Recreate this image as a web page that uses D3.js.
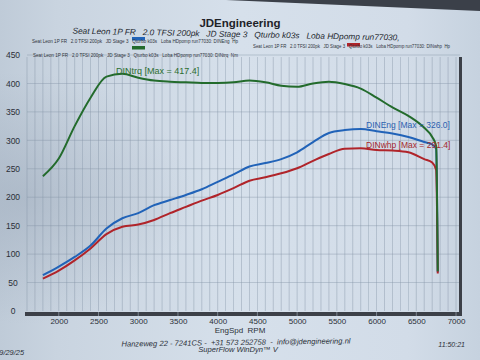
<!DOCTYPE html>
<html><head><meta charset="utf-8">
<script src="https://cdn.jsdelivr.net/npm/d3@7"></script>
<style>html,body{margin:0;padding:0;background:#cdd8e4;}svg{display:block;}</style>
</head><body><svg id="c" width="480" height="360"></svg>
<script>
const rpm    = [1800,2000,2200,2400,2600,2800,3000,3200,3400,3600,3800,4000,4200,4400,4600,4800,5000,5200,5400,5600,5800,6000,6200,6400,6600,6700,6750,6770];
const dinTrq = [237,268,325,375,412,417,410,405,403,402,401,401,402,405,402,396,394,400,403,399,391,375,358,343,322,306,290,70];
const dinEng = [63,78,95,115,145,163,172,186,195,204,214,227,240,254,260,267,279,297,313,318,320,316,312,306,297,293,285,68];
const dinWhp = [57,71,89,110,135,148,152,160,172,183,194,204,216,229,235,242,251,264,276,285,286,283,282,279,267,261,248,66];
const yTicks = [0,50,100,150,200,250,300,350,400,450];
const xTicks = [2000,2500,3000,3500,4000,4500,5000,5500,6000,6500,7000];
const legendText = "Seat Leon 1P FR   2.0 TFSI 200pk   JD Stage 3   Qturbo k03s   Loba HDpomp run77030: ";

const svg = d3.select("#c");
const defs = svg.append("defs");
const g1 = defs.append("linearGradient").attr("id","bg").attr("x1","0").attr("x2","1").attr("y1","0").attr("y2","0");
g1.append("stop").attr("offset","0").attr("stop-color","#bfcbd8");
g1.append("stop").attr("offset","0.12").attr("stop-color","#c9d4e0");
g1.append("stop").attr("offset","0.5").attr("stop-color","#d6e0eb");
g1.append("stop").attr("offset","0.85").attr("stop-color","#d2dce8");
g1.append("stop").attr("offset","1").attr("stop-color","#c6d2df");
svg.append("rect").attr("width",480).attr("height",360).attr("fill","url(#bg)");
const rg = defs.append("radialGradient").attr("id","sh").attr("cx","0.05").attr("cy","0.55").attr("r","0.35");
rg.append("stop").attr("offset","0").attr("stop-color","#8f9daf").attr("stop-opacity",0.4);
rg.append("stop").attr("offset","1").attr("stop-color","#8f9daf").attr("stop-opacity",0);
svg.append("rect").attr("width",480).attr("height",360).attr("fill","url(#sh)");
// dark photo background top-right
svg.append("path").attr("d","M226,0 L480,0 L480,11 Z").attr("fill","#3b4049");

const L=27, R=460, T=57, B=311;
const x = d3.scaleLinear().domain([1600,7050]).range([L,R]);
const y = d3.scaleLinear().domain([0,450]).range([B,55]);

// grid
const grid = svg.append("g");
grid.selectAll("line.v").data(d3.range(1600,7050,100)).join("line")
  .attr("x1",d=>x(d)).attr("x2",d=>x(d)).attr("y1",T).attr("y2",B)
  .attr("stroke","#8595a8").attr("stroke-width",0.7).attr("opacity",0.6);
grid.selectAll("line.h").data(yTicks.filter(d=>d>0)).join("line")
  .attr("x1",L).attr("x2",R).attr("y1",d=>y(d)).attr("y2",d=>y(d))
  .attr("stroke","#8595a8").attr("stroke-width",0.7).attr("opacity",0.6);

// frame: bottom bar and right border
svg.append("rect").attr("x",L-2).attr("y",B+1).attr("width",R-L+4).attr("height",4).attr("fill","#3c4048");
svg.append("rect").attr("x",R-1).attr("y",T).attr("width",3).attr("height",B-T+5).attr("fill","#3c4048");
svg.selectAll("line.bt").data(xTicks).join("line")
  .attr("x1",d=>x(d)).attr("x2",d=>x(d)).attr("y1",B+1).attr("y2",B+5)
  .attr("stroke","#8a94a0").attr("stroke-width",0.8);

// axes labels
const font = "Liberation Sans, Arial, sans-serif";
const yAxis = d3.axisLeft(y).tickValues(yTicks).tickSize(0).tickPadding(0);
const ya = svg.append("g").attr("transform","translate(20,0)").call(yAxis);
ya.select(".domain").remove();
ya.selectAll("text").attr("font-family",font).attr("font-size",8.5).attr("fill","#2b3038").attr("text-anchor","middle").attr("x",-7);
const xAxis = d3.axisBottom(x).tickValues(xTicks).tickFormat(d3.format("d")).tickSize(0).tickPadding(0);
const xa = svg.append("g").attr("transform","translate(0,318)").call(xAxis);
xa.select(".domain").remove();
xa.selectAll("text").attr("font-family",font).attr("font-size",8).attr("fill","#2b3038");

svg.append("text").attr("x",240).attr("y",333).attr("text-anchor","middle").attr("font-family",font).attr("font-size",8).attr("fill","#2b3038").attr("xml:space","preserve").text("EngSpd  RPM");

// curves
const line = d3.line().x(d=>x(d[0])).y(d=>y(d[1])).curve(d3.curveMonotoneX);
const series = [
  {vals:dinEng, color:"#2163b8"},
  {vals:dinWhp, color:"#b0242a"},
  {vals:dinTrq, color:"#236b2c"}
];
series.forEach(s=>{
  svg.append("path").datum(rpm.map((r,i)=>[r,s.vals[i]]))
    .attr("d",line).attr("fill","none").attr("stroke",s.color).attr("stroke-width",2).attr("stroke-linejoin","round");
});

// annotations
svg.append("text").attr("x",x(2720)).attr("y",74).attr("font-family",font).attr("font-size",9).attr("fill","#2c6e30").text("DINtrq [Max = 417.4]");
svg.append("text").attr("x",366).attr("y",128).attr("font-family",font).attr("font-size",8.5).attr("fill","#2c62b0").text("DINEng [Max = 326.0]");
svg.append("text").attr("x",366).attr("y",148).attr("font-family",font).attr("font-size",8.5).attr("fill","#a6282c").text("DINwhp [Max = 291.4]");

// titles
svg.append("text").attr("x",240).attr("y",27).attr("text-anchor","middle").attr("font-family",font).attr("font-weight","bold").attr("font-size",11.5).attr("fill","#1e2228").text("JDEngineering");
svg.append("text").attr("x",236).attr("y",37).attr("text-anchor","middle").attr("font-family",font).attr("font-style","italic").attr("font-size",8.3).attr("fill","#23272e").attr("xml:space","preserve")
  .attr("transform","rotate(1.2,236,37)")
  .text("Seat Leon 1P FR   2.0 TFSI 200pk   JD Stage 3   Qturbo k03s   Loba HDpomp run77030,");

// legends
const legends = [
  {x:32, y:43, w:206, sw:132, sy:37, label:"DINEng  Hp", color:"#2163b8"},
  {x:253, y:48, w:197, sw:347, sy:43, label:"DINwhp  Hp", color:"#b0242a"},
  {x:33, y:57, w:205, sw:132, sy:46, label:"DINtrq  Nm", color:"#236b2c"}
];
legends.forEach(l=>{
  svg.append("rect").attr("x",l.sw).attr("y",l.sy).attr("width",13).attr("height",3.5).attr("fill",l.color);
  svg.append("text").attr("x",l.x).attr("y",l.y).attr("font-family",font).attr("font-size",4.8).attr("fill","#2f343c")
    .attr("xml:space","preserve").attr("textLength",l.w).attr("lengthAdjust","spacingAndGlyphs").text(legendText + l.label);
});

// footer
svg.append("text").attr("x",236).attr("y",345).attr("text-anchor","middle").attr("font-family",font).attr("font-style","italic").attr("font-size",7.6).attr("fill","#2b3038").attr("xml:space","preserve")
  .attr("transform","rotate(-0.8,236,345)")
  .text("Hanzeweg 22 - 7241CS -  +31 573 252758  -  info@jdengineering.nl");
svg.append("text").attr("x",238).attr("y",352).attr("text-anchor","middle").attr("font-family",font).attr("font-style","italic").attr("font-size",7.6).attr("fill","#2b3038").text("SuperFlow WinDyn™ V");
svg.append("text").attr("x",24).attr("y",355).attr("text-anchor","end").attr("font-family",font).attr("font-style","italic").attr("font-size",7.4).attr("fill","#2b3038").text("9/29/25");
svg.append("text").attr("x",465).attr("y",347).attr("text-anchor","end").attr("font-family",font).attr("font-style","italic").attr("font-size",7).attr("fill","#2b3038").text("11:50:21");
</script></body></html>
